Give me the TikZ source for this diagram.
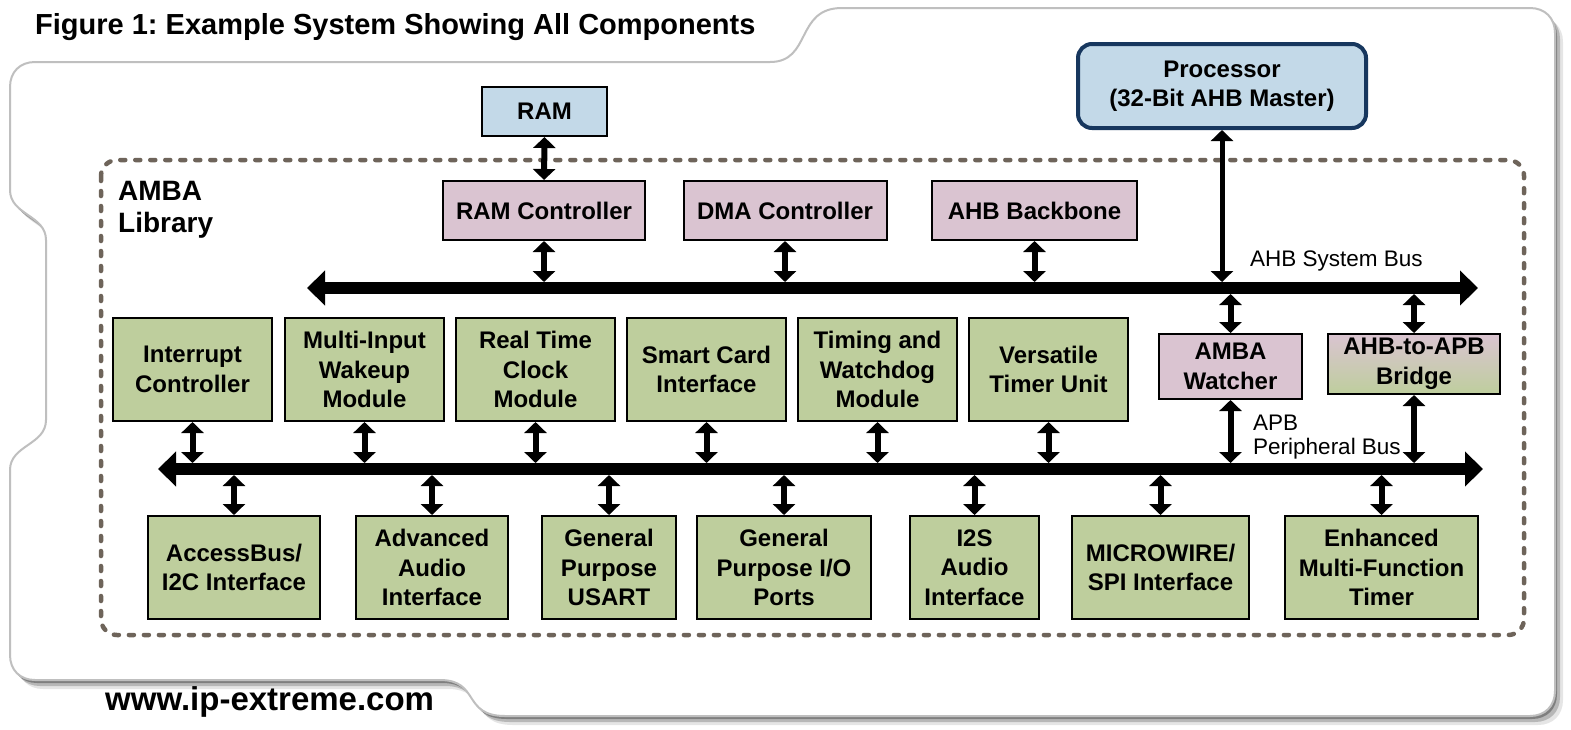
\documentclass[tikz,border=0pt]{standalone}
\usepackage{fontspec}
\setmainfont{Liberation Sans}
\frenchspacing
\usetikzlibrary{arrows.meta}
\usetikzlibrary{shadows}

\definecolor{boxgreen}{RGB}{190,206,157}
\definecolor{boxpink}{RGB}{218,196,209}
\definecolor{boxblue}{RGB}{195,217,232}
\definecolor{cpuborder}{RGB}{23,55,94}
\definecolor{libdash}{RGB}{110,100,90}

\begin{document}
\begin{tikzpicture}[x=1pt, y=-1pt,
    blk/.style={draw=black, line width=2pt, align=center, inner sep=0pt, font=\bfseries\fontsize{24}{29.5}\selectfont},
    periph/.style={blk, fill=boxgreen, minimum height=103pt},
    ahbdev/.style={blk, fill=boxpink},
    bus/.style={line width=12pt, {Triangle[length=18pt,width=34pt]}-{Triangle[length=18pt,width=34pt]}},
    link/.style={line width=6pt, {Triangle[length=11pt,width=22pt]}-{Triangle[length=11pt,width=22pt]}},
    buslabel/.style={anchor=base west, align=left, inner sep=0pt, font=\fontsize{22.5}{23.5}\selectfont}]

        \useasboundingbox (0,0) rectangle (1571,729);
        \fill[white] (0,0) rectangle (1571,729);

        % Draw the panel
        \path[fill=white, draw=black!25, line width=2pt,
              drop shadow={shadow xshift=2pt, shadow yshift=-3pt, opacity=.3, fill=black},
              drop shadow={shadow xshift=5pt, shadow yshift=-6pt, opacity=.2, fill=black},
              drop shadow={shadow xshift=8pt, shadow yshift=-9pt, opacity=.1, fill=black}]
            (40,62) -- (770,62) .. controls (812,62) and (795,8) .. (842,8)
            -- (1530,8) .. controls (1545,8) and (1555,18) .. (1555,33)
            -- (1555,691) .. controls (1555,706) and (1545,716) .. (1530,716)
            -- (505,716) .. controls (462,716) and (480,680) .. (440,680)
            -- (35,680) .. controls (20,680) and (10,670) .. (10,655)
            -- (10,470) .. controls (10,445) and (46,445) .. (46,420)
            -- (46,240) .. controls (46,215) and (10,215) .. (10,190)
            -- (10,87) .. controls (10,72) and (20,62) .. (35,62) -- cycle;

        % Titles
        \node[anchor=base west, inner sep=0pt, font=\bfseries\fontsize{29}{35}\selectfont] (title) at (35,34) {Figure 1: Example System Showing All Components};
        \node[anchor=base west, inner sep=0pt, font=\bfseries\fontsize{33}{40}\selectfont] (site) at (105,710) {www.ip-extreme.com};

        % Library frame
        \draw[libdash, line width=4.5pt, dash pattern=on 5pt off 10pt, line cap=round, rounded corners=16pt] (101,160) rectangle (1524,635);
        \node[anchor=base west, align=left, inner sep=0pt, font=\bfseries\fontsize{28}{32}\selectfont] (lib) at (118,232) {AMBA\\Library};

        % Outside the library
        \node[blk, fill=boxblue, minimum width=125pt, minimum height=49pt] (ram) at (544.5,111.5) {RAM};
        \node[blk, fill=boxblue, draw=cpuborder, line width=4pt, rounded corners=14pt, minimum width=288pt, minimum height=84pt] (cpu) at (1222,86) {Processor\\(32-Bit AHB Master)};

        % AHB devices
        \node[ahbdev, minimum width=202pt, minimum height=59pt] (ramctl) at (544,210.5) {RAM Controller};
        \node[ahbdev, minimum width=203pt, minimum height=59pt] (dma) at (785,210.5) {DMA Controller};
        \node[ahbdev, minimum width=205pt, minimum height=59pt] (backbone) at (1034.5,210.5) {AHB Backbone};
        \node[ahbdev, minimum width=143pt, minimum height=65pt] (watcher) at (1230.5,366.5) {AMBA\\Watcher};
        \node[blk, top color=boxpink, bottom color=boxgreen, minimum width=172pt, minimum height=60pt] (bridge) at (1414,364) {AHB-to-APB\\Bridge};

        % Upper APB peripherals
        \node[periph, minimum width=159pt] (intctl) at (192.5,369.5) {Interrupt\\Controller};
        \node[periph, minimum width=159pt] (wakeup) at (364.5,369.5) {Multi-Input\\Wakeup\\Module};
        \node[periph, minimum width=159pt] (rtc) at (535.5,369.5) {Real Time\\Clock\\Module};
        \node[periph, minimum width=159pt] (smartcard) at (706.5,369.5) {Smart Card\\Interface};
        \node[periph, minimum width=159pt] (watchdog) at (877.5,369.5) {Timing and\\Watchdog\\Module};
        \node[periph, minimum width=159pt] (vtu) at (1048.5,369.5) {Versatile\\Timer Unit};

        % Lower APB peripherals
        \node[periph, minimum width=172pt] (accessbus) at (234,567.5) {AccessBus/\\I2C Interface};
        \node[periph, minimum width=152pt] (audio) at (432,567.5) {Advanced\\Audio\\Interface};
        \node[periph, minimum width=134pt] (usart) at (609,567.5) {General\\Purpose\\USART};
        \node[periph, minimum width=174pt] (gpio) at (784,567.5) {General\\Purpose I/O\\Ports};
        \node[periph, minimum width=129pt] (i2s) at (974.5,567.5) {I2S\\Audio\\Interface};
        \node[periph, minimum width=177pt] (microwire) at (1160.5,567.5) {MICROWIRE/\\SPI Interface};
        \node[periph, minimum width=193pt] (mft) at (1381.5,567.5) {Enhanced\\Multi-Function\\Timer};

        % Buses
        \coordinate (ahbW) at (307,288);
        \coordinate (ahbE) at (1478,288);
        \coordinate (ahbT) at (0,282);
        \coordinate (ahbB) at (0,294);
        \coordinate (apbW) at (158,469);
        \coordinate (apbE) at (1483,469);
        \coordinate (apbT) at (0,463);
        \coordinate (apbB) at (0,475);
        \draw[bus] (ahbW) -- (ahbE);
        \draw[bus] (apbW) -- (apbE);
        \node[buslabel] (ahblbl) at (1250,266) {AHB System Bus};
        \node[buslabel] (apblbl) at (1253,454) {APB\\Peripheral Bus};

        % AHB links
        \draw[link] (ram.south) -- (ramctl.north);
        \draw[link, line width=5pt] (cpu.south) -- (cpu.south |- ahbT);
        \draw[link] (ramctl.south) -- (ramctl.south |- ahbT);
        \draw[link] (dma.south) -- (dma.south |- ahbT);
        \draw[link] (backbone.south) -- (backbone.south |- ahbT);
        \draw[link] (watcher.north |- ahbB) -- (watcher.north);
        \draw[link] (bridge.north |- ahbB) -- (bridge.north);

        % APB links
        \draw[link] (intctl.south) -- (intctl.south |- apbT);
        \draw[link] (wakeup.south) -- (wakeup.south |- apbT);
        \draw[link] (rtc.south) -- (rtc.south |- apbT);
        \draw[link] (smartcard.south) -- (smartcard.south |- apbT);
        \draw[link] (watchdog.south) -- (watchdog.south |- apbT);
        \draw[link] (vtu.south) -- (vtu.south |- apbT);
        \draw[link] (watcher.south) -- (watcher.south |- apbT);
        \draw[link] (bridge.south) -- (bridge.south |- apbT);
        \draw[link] (accessbus.north |- apbB) -- (accessbus.north);
        \draw[link] (audio.north |- apbB) -- (audio.north);
        \draw[link] (usart.north |- apbB) -- (usart.north);
        \draw[link] (gpio.north |- apbB) -- (gpio.north);
        \draw[link] (i2s.north |- apbB) -- (i2s.north);
        \draw[link] (microwire.north |- apbB) -- (microwire.north);
        \draw[link] (mft.north |- apbB) -- (mft.north);

    \end{tikzpicture}
\end{document}
